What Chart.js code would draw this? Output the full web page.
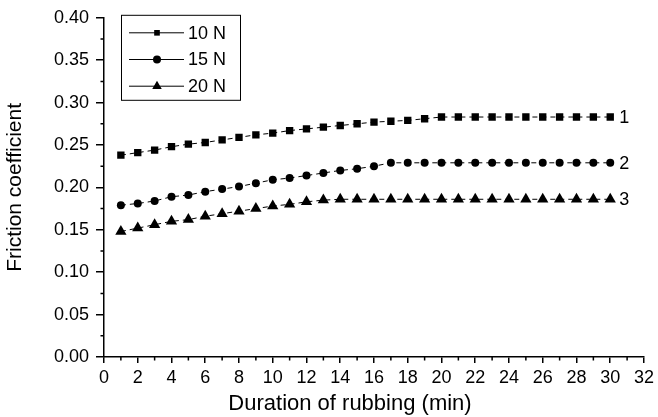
<!DOCTYPE html>
<html lang="en">
<head>
<meta charset="UTF-8">
<title>Friction coefficient vs duration of rubbing</title>
<script src="https://cdn.jsdelivr.net/npm/chart.js@4.4.0/dist/chart.umd.min.js"></script>
<style>
    html, body { margin: 0; padding: 0; background: #fff; }
    #wrap { width: 658px; height: 417px; }
</style>
</head>
<body>
<div id="wrap"><canvas id="chart"></canvas></div>
<script>
    // durations (min)
    const minutes = [1, 2, 3, 4, 5, 6, 7, 8, 9, 10, 11, 12, 13, 14, 15,
                     16, 17, 18, 19, 20, 21, 22, 23, 24, 25, 26, 27, 28, 29, 30];

    const load10N = [0.238, 0.241, 0.244, 0.248, 0.251, 0.253, 0.256, 0.259, 0.262, 0.264,
                     0.267, 0.269, 0.271, 0.273, 0.275, 0.277, 0.278, 0.279, 0.281, 0.283,
                     0.283, 0.283, 0.283, 0.283, 0.283, 0.283, 0.283, 0.283, 0.283, 0.283];
    const load15N = [0.179, 0.181, 0.184, 0.189, 0.191, 0.195, 0.198, 0.201, 0.205, 0.209,
                     0.211, 0.214, 0.217, 0.220, 0.222, 0.225, 0.229, 0.229, 0.229, 0.229,
                     0.229, 0.229, 0.229, 0.229, 0.229, 0.229, 0.229, 0.229, 0.229, 0.229];
    const load20N = [0.148, 0.152, 0.156, 0.160, 0.162, 0.166, 0.169, 0.172, 0.175, 0.178,
                     0.180, 0.183, 0.185, 0.186, 0.186, 0.186, 0.186, 0.186, 0.186, 0.186,
                     0.186, 0.186, 0.186, 0.186, 0.186, 0.186, 0.186, 0.186, 0.186, 0.186];

    const seriesNames = ['10 N', '15 N', '20 N'];
    const curveTags = ['1', '2', '3'];
    const markers = ['rect', 'circle', 'triangle'];
    const xTitle = 'Duration of rubbing (min)';

    const FONT = '"Liberation Sans", Arial, sans-serif';

    function toPoints(ys) {
        return minutes.map((m, i) => ({ x: m, y: ys[i] }));
    }

    function marker(ctx, style, x, y, r) {
        ctx.beginPath();
        if (style === 'rect') {
            const s = r * Math.SQRT1_2;
            ctx.rect(x - s, y - s, 2 * s, 2 * s);
        } else if (style === 'circle') {
            ctx.arc(x, y, r, 0, Math.PI * 2);
        } else {
            ctx.moveTo(x, y - r);
            ctx.lineTo(x + r * 0.866, y + r * 0.5);
            ctx.lineTo(x - r * 0.866, y + r * 0.5);
            ctx.closePath();
        }
        ctx.fill();
    }

    // minor ticks, x title, the boxed legend and the 1/2/3 curve tags
    const extras = {
        id: 'extras',
        afterDraw(chart) {
            const ctx = chart.ctx;
            const xs = chart.scales.x, ys = chart.scales.y;
            const area = chart.chartArea;
            ctx.save();
            ctx.strokeStyle = '#000';
            ctx.lineWidth = 1.5;
            ctx.beginPath();
            for (let v = 1; v < 32; v += 2) {
                const px = xs.getPixelForValue(v);
                ctx.moveTo(px, area.bottom);
                ctx.lineTo(px, area.bottom + 3.5);
            }
            for (let v = 0.025; v < 0.4; v += 0.05) {
                const py = ys.getPixelForValue(v);
                ctx.moveTo(area.left, py);
                ctx.lineTo(area.left - 3.5, py);
            }
            ctx.stroke();

            ctx.fillStyle = '#000';
            ctx.textBaseline = 'middle';

            // x axis title, sits a bit left of centre in the original
            ctx.font = '22px ' + FONT;
            ctx.textAlign = 'center';
            ctx.fillText(xTitle, (area.left + area.right) / 2 - 24, 404);
            ctx.textAlign = 'left';

            // legend box
            const bx = area.left + 17, by = area.top - 3;
            ctx.lineWidth = 1;
            ctx.strokeRect(bx + 0.5, by + 0.5, 119, 85);
            ctx.font = '18px ' + FONT;
            chart.data.datasets.forEach((ds, i) => {
                const ry = by + 18 + i * 26.7;
                ctx.beginPath();
                ctx.moveTo(bx + 8, ry);
                ctx.lineTo(bx + 63, ry);
                ctx.stroke();
                marker(ctx, markers[i], bx + 36, ry, markers[i] === 'triangle' ? 5.5 : 4);
                ctx.fillText(ds.label, bx + 67, ry + 1);
            });

            // tags at curve ends
            chart.data.datasets.forEach((ds, i) => {
                const last = ds.data[ds.data.length - 1];
                const px = xs.getPixelForValue(last.x);
                const py = ys.getPixelForValue(last.y);
                ctx.fillText(curveTags[i], px + 9, py + 1);
            });
            ctx.restore();
        }
    };

    function makeSet(i, ys) {
        const sizes = { rect: 5.2, circle: 4, triangle: 6.5 };
        return {
            label: seriesNames[i],
            data: toPoints(ys),
            borderColor: '#000',
            backgroundColor: '#000',
            pointBackgroundColor: '#000',
            pointBorderColor: '#000',
            pointBorderWidth: 0,
            pointStyle: markers[i],
            pointRadius: sizes[markers[i]],
            borderWidth: 1,
            borderDash: [5, 4],
            tension: 0,
            fill: false
        };
    }

    new Chart(document.getElementById('chart'), {
        type: 'line',
        data: {
            datasets: [makeSet(0, load10N), makeSet(1, load15N), makeSet(2, load20N)]
        },
        options: {
            responsive: true,
            maintainAspectRatio: false,
            animation: false,
            layout: { padding: { top: 17, right: 11, left: 0, bottom: 0 } },
            plugins: {
                legend: { display: false },
                tooltip: { enabled: false }
            },
            scales: {
                x: {
                    type: 'linear',
                    min: 0,
                    max: 32,
                    afterFit: s => { s.height = 60; },
                    ticks: {
                        stepSize: 2,
                        color: '#000',
                        padding: 4,
                        font: { family: FONT, size: 18 },
                        maxRotation: 0
                    },
                    grid: { drawOnChartArea: false, drawTicks: true, tickLength: 6, color: '#000', lineWidth: 1.5 },
                    border: { color: '#000', width: 1.5 },
                    title: { display: false }
                },
                y: {
                    min: 0,
                    max: 0.4,
                    afterFit: s => { s.width = 104; },
                    ticks: {
                        stepSize: 0.05,
                        color: '#000',
                        padding: 7,
                        font: { family: FONT, size: 18 },
                        callback: v => v.toFixed(2)
                    },
                    grid: { drawOnChartArea: false, drawTicks: true, tickLength: 8, color: '#000', lineWidth: 1.5 },
                    border: { color: '#000', width: 1.5 },
                    title: {
                        display: true,
                        text: 'Friction coefficient',
                        color: '#000',
                        font: { family: FONT, size: 21 },
                        padding: { top: 3, bottom: 0 }
                    }
                }
            }
        },
        plugins: [extras]
    });
</script>
</body>
</html>
